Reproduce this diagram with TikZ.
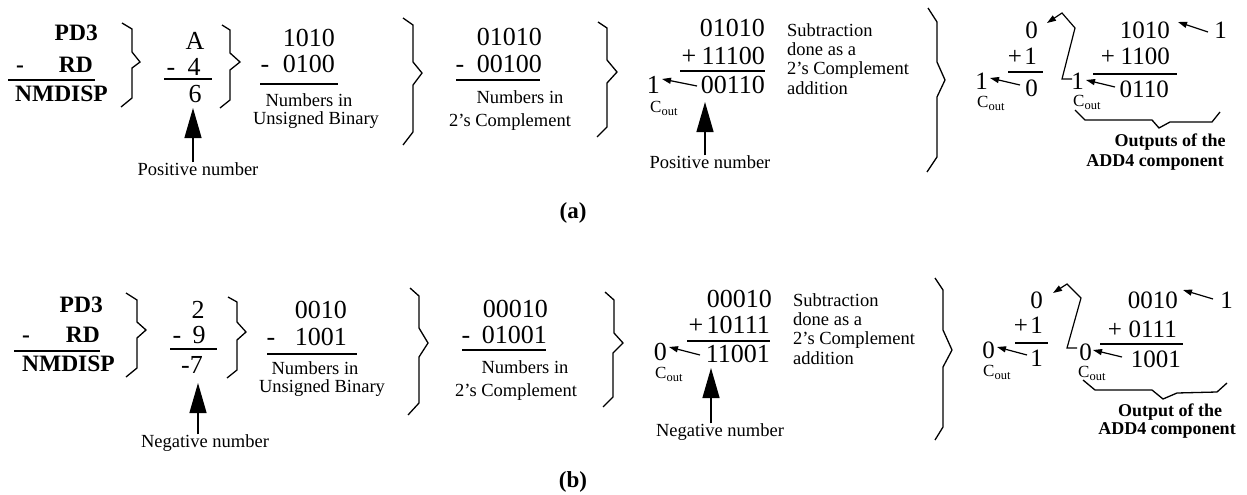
\documentclass[tikz,border=0pt]{standalone}
\usepackage{fontspec}
\setmainfont{Liberation Serif}
\usetikzlibrary{arrows.meta}
\newcommand{\coutlbl}{C\raisebox{-3.5pt}{\fontsize{12.5}{13}\selectfont out}}
\tikzset{
  num/.style={font=\fontsize{26}{28}\selectfont, inner sep=0pt},
  numr/.style={font=\fontsize{25}{27}\selectfont, inner sep=0pt},
  sm/.style={font=\fontsize{18.5}{20}\selectfont, inner sep=0pt},
  bfs/.style={font=\bfseries\fontsize{23.5}{25}\selectfont, inner sep=0pt},
  lbl/.style={font=\bfseries\fontsize{18}{20}\selectfont, inner sep=0pt},
  captxt/.style={font=\bfseries\fontsize{23}{25}\selectfont, inner sep=0pt},
  cl/.style={font=\fontsize{17}{19}\selectfont, inner sep=0pt, anchor=base west},
  rule/.style={line width=1.3pt},
  brace/.style={line width=1.3pt, line join=miter},
  bigarrow/.style={line width=1.3pt, -{Triangle[length=30pt,width=17pt]}},
  carr/.style={line width=1.2pt, -{Triangle[length=9pt,width=6pt]}},
}
\begin{document}
\begin{tikzpicture}[x=1pt,y=-1pt]
\useasboundingbox[fill=white] (0,0) rectangle (1247,495);

% ================= (a) =================
\node[bfs,anchor=base east] (aPD) at (98,41) {PD3};
\node[bfs,anchor=base] (aMi) at (20,72) {-};
\node[bfs,anchor=base east] (aRD) at (93,73) {RD};
\draw[rule] (8,80) -- (95,80);
\node[bfs,anchor=base east] (aNM) at (108,101) {NMDISP};
\draw[brace] (122,23) -- (132,29) -- (132,52) -- (140,62) -- (132,68) -- (132,98) -- (121,107);

\node[num,anchor=base] (aA) at (195,50) {A};
\node[num,anchor=base] (aM2) at (171,75) {-};
\node[num,anchor=base] (a4) at (194,75) {4};
\draw[rule] (164,79) -- (212,79);
\node[num,anchor=base] (a6) at (195,102) {6};
\node[sm] (aPos) at (198,169) {Positive number};
\coordinate (aPt) at (193,108);
\draw[bigarrow] (aPos.north -| aPt) -- (aPt);
\draw[brace] (222,25) -- (230,30) -- (230,53) -- (240,62) -- (230,70) -- (230,100) -- (220,108);

\node[num,anchor=base east] (aU1) at (335,47) {1010};
\node[num,anchor=base] (aUm) at (265,73) {-};
\node[num,anchor=base east] (aU2) at (335,73) {0100};
\draw[rule] (260,84) -- (338,84);
\node[sm] (aU3) at (309,100) {Numbers in};
\node[sm] (aU4) at (316,120) {Unsigned Binary};
\draw[brace] (403,18) -- (413,25) -- (413,62) -- (422,73) -- (413,85) -- (413,132) -- (403,145);

\node[num,anchor=base east] (aT1) at (542,46) {01010};
\node[num,anchor=base] (aTm) at (460,72) {-};
\node[num,anchor=base east] (aT2) at (542,72) {00100};
\draw[rule] (456,80) -- (540,80);
\node[sm] (aT3) at (520,97) {Numbers in};
\node[sm] (aT4) at (510,122) {2’s Complement};
\draw[brace] (598,22) -- (607,28) -- (607,60) -- (617,72) -- (607,83) -- (607,127) -- (597,137);

\node[num,anchor=base east] (aS1) at (765,37) {01010};
\node[num,anchor=base] (aSp) at (689,65) {+};
\node[num,anchor=base east] (aS2) at (765,65) {11100};
\draw[rule] (680,71) -- (765,71);
\node[num,anchor=base east] (aS3) at (765,93) {00110};
\node[num,anchor=base east] (aSc) at (660,93) {1};
\node[cl] (aScl) at (650,112) {\coutlbl};
\coordinate (aSa) at (697,86);
\coordinate (aSb) at (662,79);
\draw[carr] (aSa) -- (aSb);
\node[sm] (aPos2) at (710,162) {Positive number};
\coordinate (aPt2) at (705,102);
\draw[bigarrow] (aPos2.north -| aPt2) -- (aPt2);
\node[sm,anchor=west,align=left,font=\fontsize{18.5}{19.3}\selectfont] (aSub) at (787,59) {Subtraction\\done as a\\2’s Complement\\addition};
\draw[brace] (928,8) -- (937,22) -- (937,62) -- (945,80) -- (937,97) -- (937,157) -- (927,172);

\node[numr,anchor=base east] (aR1) at (1038,38) {0};
\node[numr,anchor=base] (aRp) at (1015,65) {+};
\node[numr,anchor=base east] (aR2) at (1037,65) {1};
\draw[rule] (1008,72) -- (1043,72);
\node[numr,anchor=base east] (aR3) at (1038,96) {0};
\node[numr,anchor=base east] (aRc) at (988,89) {1};
\node[cl] (aRcl) at (977,107) {\coutlbl};
\coordinate (aRa) at (1020,85);
\coordinate (aRb) at (990,78);
\draw[carr] (aRa) -- (aRb);

\node[numr,anchor=base east] (aQ1) at (1170,38) {1010};
\node[numr,anchor=base east] (aQi) at (1227,38) {1};
\coordinate (aQa) at (1208,32);
\coordinate (aQb) at (1178,22);
\draw[carr] (aQa) -- (aQb);
\node[numr,anchor=base] (aQp) at (1108,65) {+};
\node[numr,anchor=base east] (aQ2) at (1170,65) {1100};
\draw[rule] (1093,74) -- (1177,74);
\node[numr,anchor=base east] (aQ3) at (1169,97) {0110};
\node[numr,anchor=base east] (aQc) at (1084,89) {1};
\node[cl] (aQcl) at (1073,106) {\coutlbl};
\coordinate (aQd) at (1115,87);
\coordinate (aQe) at (1086,80);
\draw[carr] (aQd) -- (aQe);
\coordinate (aK0) at (1072,79);
\coordinate (aK1) at (1047,23);
\draw[carr] (aK0) -- (1062,79) -- (1075,28) -- (1062,13) -- (aK1);
\draw[brace] (1075,110) -- (1085,120) -- (1152,120) -- (1159,128) -- (1170,122) -- (1212,122) -- (1220,112);
\node[lbl] (aO1) at (1170,142) {Outputs of the};
\node[lbl] (aO2) at (1155,162) {ADD4 component};

\node[captxt] (capA) at (573,213) {(a)};

% ================= (b) =================
\node[bfs,anchor=base east] (bPD) at (103,312) {PD3};
\node[bfs,anchor=base] (bMi) at (26,342) {-};
\node[bfs,anchor=base east] (bRD) at (100,342) {RD};
\draw[rule] (14,351) -- (100,351);
\node[bfs,anchor=base east] (bNM) at (115,371) {NMDISP};
\draw[brace] (126,293) -- (137,300) -- (137,322) -- (146,330) -- (137,338) -- (137,368) -- (126,377);

\node[num,anchor=base] (b2) at (198,318) {2};
\node[num,anchor=base] (bM2) at (177,343) {-};
\node[num,anchor=base] (b9) at (199,343) {9};
\draw[rule] (170,349) -- (217,349);
\node[num,anchor=base east] (b7) at (203,373) {-7};
\node[sm] (bNeg) at (205,443) {Negative number};
\coordinate (bPt) at (198,383);
\draw[bigarrow] (bNeg.north -| bPt) -- (bPt);
\draw[brace] (228,297) -- (237,302) -- (237,322) -- (246,332) -- (237,340) -- (237,370) -- (227,378);

\node[num,anchor=base east] (bU1) at (347,318) {0010};
\node[num,anchor=base] (bUm) at (271,345) {-};
\node[num,anchor=base east] (bU2) at (347,345) {1001};
\draw[rule] (267,354) -- (357,354);
\node[sm] (bU3) at (315,368) {Numbers in};
\node[sm] (bU4) at (322,388) {Unsigned Binary};
\draw[brace] (410,288) -- (419,296) -- (419,328) -- (428,343) -- (419,357) -- (419,403) -- (408,415);

\node[num,anchor=base east] (bT1) at (548,317) {00010};
\node[num,anchor=base] (bTm) at (466,343) {-};
\node[num,anchor=base east] (bT2) at (547,343) {01001};
\draw[rule] (462,350) -- (546,350);
\node[sm] (bT3) at (525,367) {Numbers in};
\node[sm] (bT4) at (516,392) {2’s Complement};
\draw[brace] (605,292) -- (614,300) -- (614,333) -- (623,343) -- (613,353) -- (613,397) -- (603,407);

\node[num,anchor=base east] (bS1) at (772,307) {00010};
\node[num,anchor=base] (bSp) at (696,333) {+};
\node[num,anchor=base east] (bS2) at (770,333) {10111};
\draw[rule] (687,341) -- (770,341);
\node[num,anchor=base east] (bS3) at (770,362) {11001};
\node[num,anchor=base east] (bSc) at (667,360) {0};
\node[cl] (bScl) at (655,378) {\coutlbl};
\coordinate (bSa) at (700,355);
\coordinate (bSb) at (669,347);
\draw[carr] (bSa) -- (bSb);
\node[sm] (bNeg2) at (720,432) {Negative number};
\coordinate (bPt2) at (711,368);
\draw[bigarrow] (bNeg2.north -| bPt2) -- (bPt2);
\node[sm,anchor=west,align=left,font=\fontsize{18.5}{19.3}\selectfont] (bSub) at (793,329) {Subtraction\\done as a\\2’s Complement\\addition};
\draw[brace] (935,278) -- (943,290) -- (943,330) -- (952,350) -- (943,367) -- (943,427) -- (935,440);

\node[numr,anchor=base east] (bR1) at (1043,308) {0};
\node[numr,anchor=base] (bRp) at (1021,333) {+};
\node[numr,anchor=base east] (bR2) at (1043,333) {1};
\draw[rule] (1015,343) -- (1048,343);
\node[numr,anchor=base east] (bR3) at (1043,366) {1};
\node[numr,anchor=base east] (bRc) at (995,358) {0};
\node[cl] (bRcl) at (983,376) {\coutlbl};
\coordinate (bRa) at (1027,355);
\coordinate (bRb) at (997,347);
\draw[carr] (bRa) -- (bRb);

\node[numr,anchor=base east] (bQ1) at (1178,308) {0010};
\node[numr,anchor=base east] (bQi) at (1233,308) {1};
\coordinate (bQa) at (1213,299);
\coordinate (bQb) at (1183,290);
\draw[carr] (bQa) -- (bQb);
\node[numr,anchor=base] (bQp) at (1115,337) {+};
\node[numr,anchor=base east] (bQ2) at (1177,337) {0111};
\draw[rule] (1100,344) -- (1183,344);
\node[numr,anchor=base east] (bQ3) at (1181,367) {1001};
\node[numr,anchor=base east] (bQc) at (1092,360) {0};
\node[cl] (bQcl) at (1078,377) {\coutlbl};
\coordinate (bQd) at (1122,357);
\coordinate (bQe) at (1093,350);
\draw[carr] (bQd) -- (bQe);
\coordinate (bK0) at (1077,348);
\coordinate (bK1) at (1053,293);
\draw[carr] (bK0) -- (1067,348) -- (1081,298) -- (1067,284) -- (bK1);
\draw[brace] (1083,380) -- (1095,390) -- (1152,390) -- (1163,399) -- (1177,393) -- (1217,392) -- (1227,383);
\node[lbl] (bO1) at (1170,412) {Output of the};
\node[lbl] (bO2) at (1167,430) {ADD4 component};

\node[captxt] (capB) at (573,482) {(b)};
\end{tikzpicture}
\end{document}
